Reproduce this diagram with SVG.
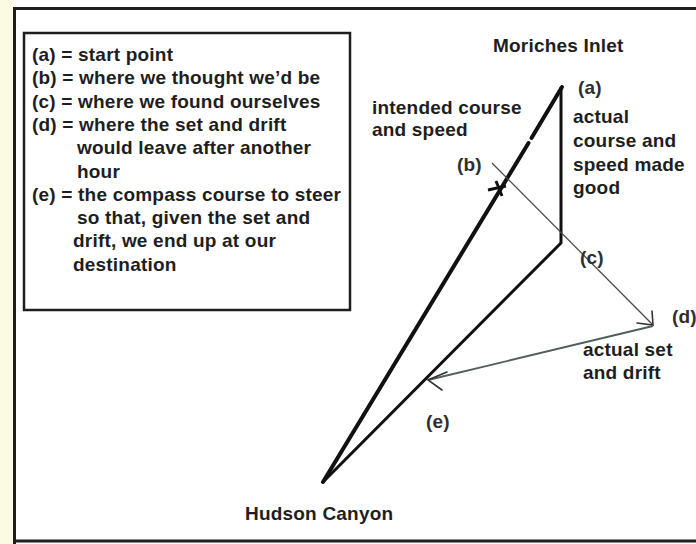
<svg xmlns="http://www.w3.org/2000/svg" width="696" height="544" viewBox="0 0 696 544">
  <defs>
    <style>
      text { font-family: "Liberation Sans", Arial, sans-serif; font-weight: bold; font-size: 19px; letter-spacing: 0.2px; fill: #1e1e1e; }
      .lbl { fill: #2e2e2e; }
      .frame { fill: none; stroke: #1e1e1e; stroke-width: 3; }
      .box { fill: none; stroke: #1e1e1e; stroke-width: 2.5; }
      .thick { stroke: #111; stroke-width: 4; stroke-linecap: round; fill: none; }
      .med { stroke: #111; stroke-width: 3; fill: none; stroke-linejoin: miter; }
      .thin { stroke: #4a4a4a; stroke-width: 1.3; fill: none; }
      .drift { stroke: #4f5f5c; stroke-width: 1.8; fill: none; }
      .head { stroke: #333; stroke-width: 1.6; fill: none; stroke-linecap: round; }
    </style>
  </defs>

  <!-- background -->
  <rect x="0" y="0" width="696" height="544" fill="#fdfdfd"/>
  <rect x="0" y="0" width="13" height="544" fill="#fbfbe3"/>
  <rect x="14" y="8" width="682" height="533" fill="#ffffff"/>
  <path class="frame" d="M14.5,544 V8.5 H696 M14.5,541 H696"/>

  <!-- legend -->
  <g id="legend">
    <rect class="box" x="24" y="33" width="326" height="277"/>
    <text x="32" y="61">(a) = start point</text>
    <text x="32" y="84.3">(b) = where we thought we’d be</text>
    <text x="32" y="107.6">(c) = where we found ourselves</text>
    <text x="32" y="131">(d) = where the set and drift</text>
    <text x="77" y="154.2">would leave after another</text>
    <text x="77" y="177.5">hour</text>
    <text x="32" y="200.8">(e) = the compass course to steer</text>
    <text x="77" y="224">so that, given the set and</text>
    <text x="73" y="247.4">drift, we end up at our</text>
    <text x="73" y="270.7">destination</text>
  </g>

  <!-- connectors -->
  <g id="connectors">
    <!-- intended course and speed (a) to Hudson Canyon, with a small break -->
    <line class="thick" x1="562" y1="87" x2="531.5" y2="138"/>
    <line class="thick" x1="528.5" y1="143" x2="323" y2="482"/>
    <!-- actual course made good: (a) down to (c) -->
    <polyline class="med" points="561,87 561,243 323,482"/>
    <!-- set line (b) through (c) to (d) -->
    <line class="thin" x1="492" y1="163" x2="653" y2="325"/>
    <polyline class="head" points="652,311 653,325 637,323"/>
    <!-- actual set and drift (d) to (e) -->
    <line class="drift" x1="653" y1="326" x2="428" y2="380"/>
    <polyline class="head" points="447,372 428,380 442,390"/>
    <!-- star mark at (b) -->
    <path stroke="#111" stroke-width="3" fill="none" d="M488,190 L506,186 M496,181 L502,196"/>
  </g>

  <!-- place labels -->
  <g id="moriches-inlet"><text x="493" y="52">Moriches Inlet</text></g>
  <g id="hudson-canyon"><text x="245" y="520">Hudson Canyon</text></g>

  <g id="point-a"><text class="lbl" x="578" y="94">(a)</text></g>
  <g id="point-b"><text class="lbl" x="457" y="171">(b)</text></g>
  <g id="point-c"><text class="lbl" x="580" y="264">(c)</text></g>
  <g id="point-d"><text class="lbl" x="672" y="323">(d)</text></g>
  <g id="point-e"><text class="lbl" x="426" y="428">(e)</text></g>

  <g id="intended-course">
    <text x="372" y="114">intended course</text>
    <text x="372" y="136">and speed</text>
  </g>
  <g id="actual-course">
    <text x="573" y="123">actual</text>
    <text x="573" y="147">course and</text>
    <text x="573" y="171">speed made</text>
    <text x="573" y="194">good</text>
  </g>
  <g id="actual-set">
    <text x="583" y="356">actual set</text>
    <text x="583" y="379">and drift</text>
  </g>
</svg>
